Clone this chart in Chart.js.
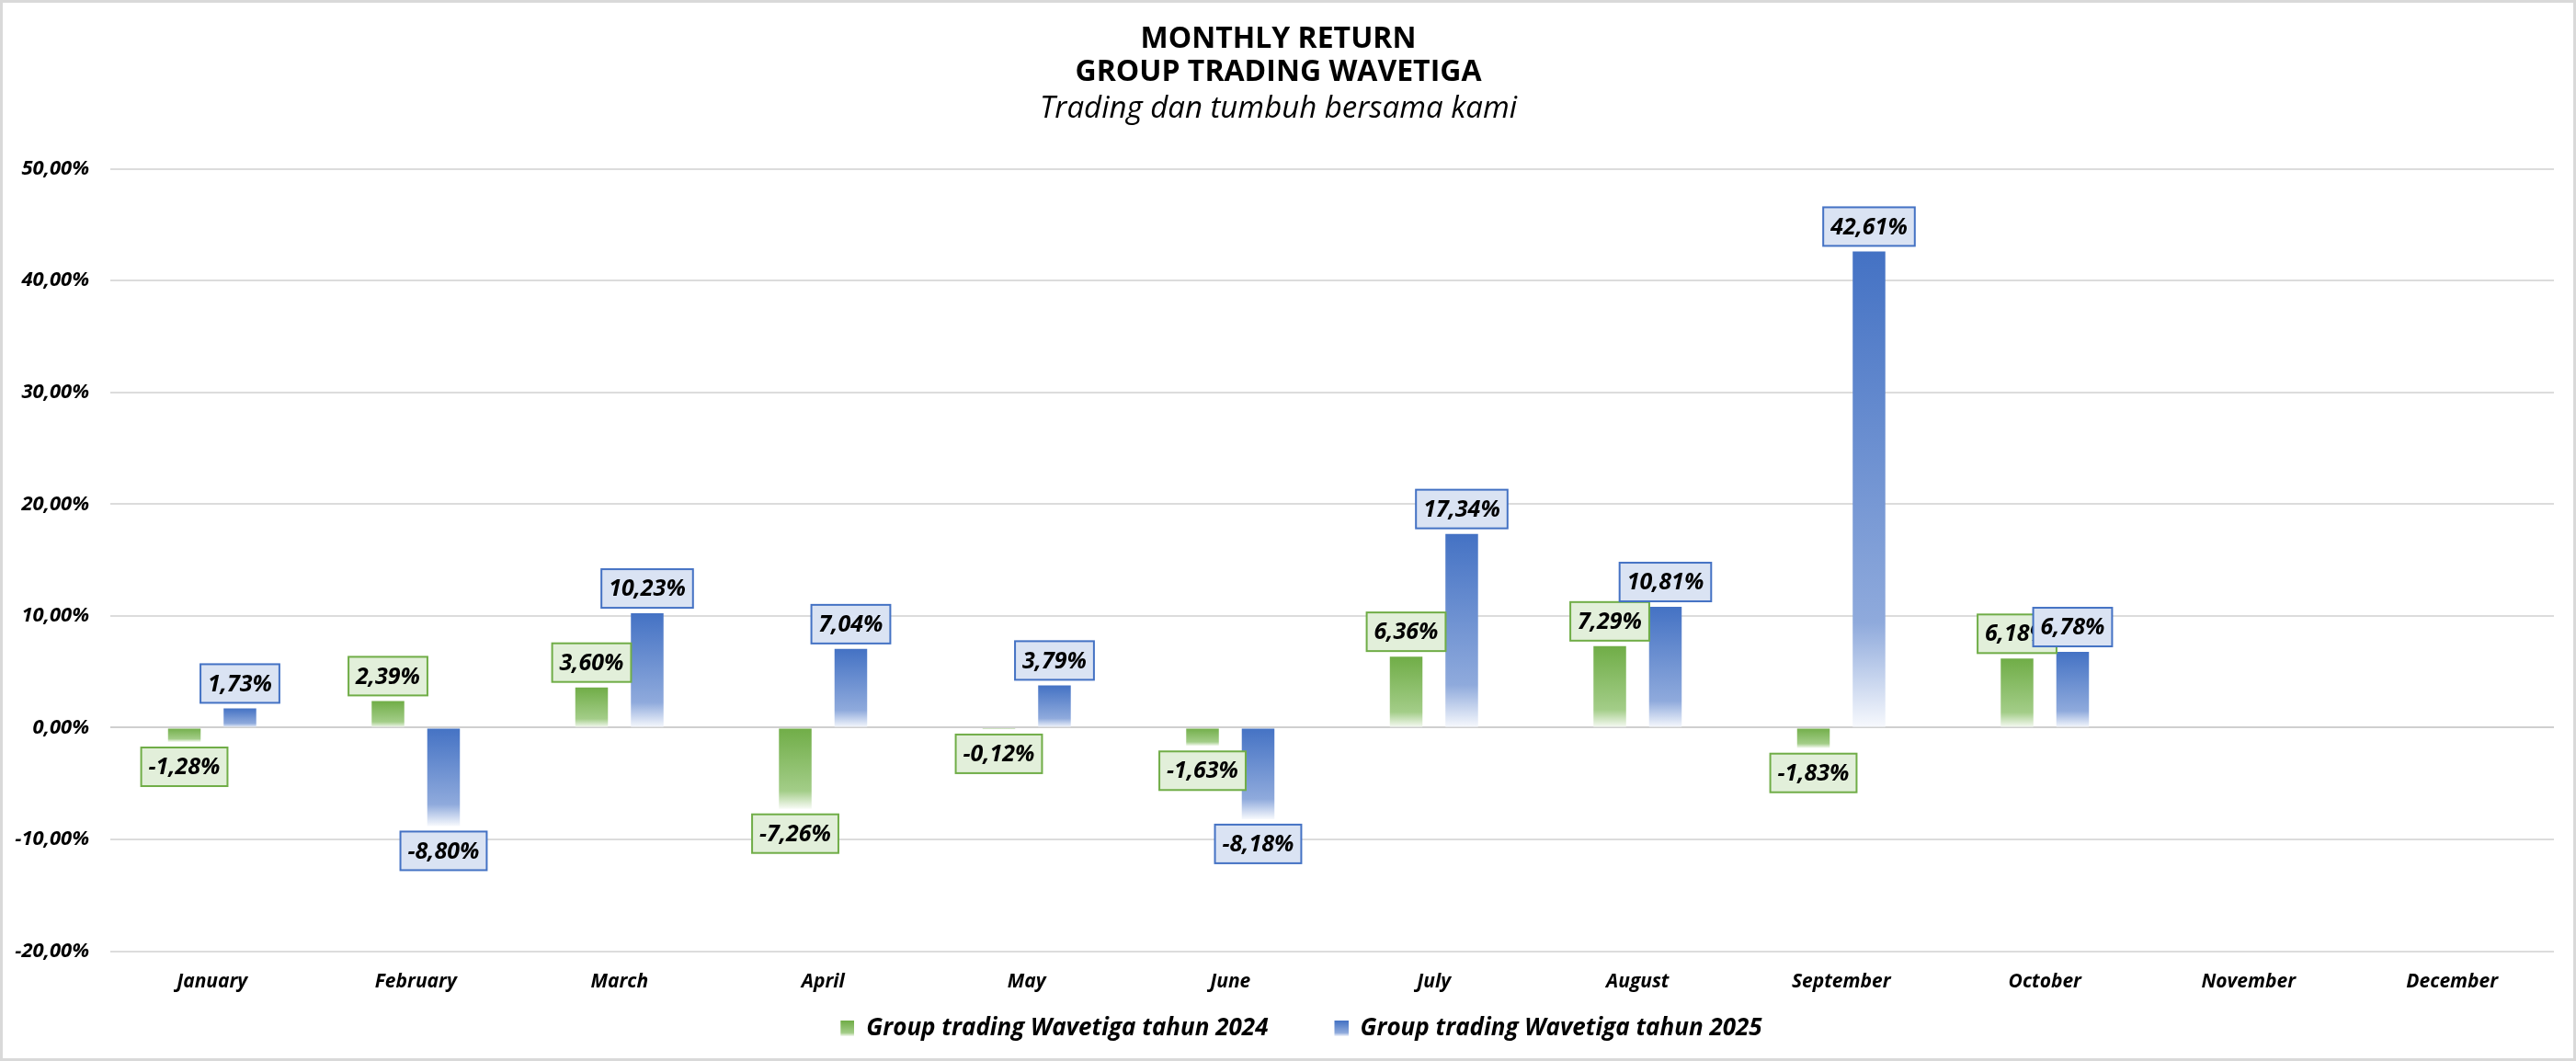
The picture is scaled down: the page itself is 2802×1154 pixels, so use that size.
<!DOCTYPE html>
<html>
<head>
<meta charset="utf-8">
<title>Monthly Return - Group Trading Wavetiga</title>
<script src="https://cdn.jsdelivr.net/npm/chart.js@4.4.1/dist/chart.umd.min.js"></script>
<style>
  html, body { margin: 0; padding: 0; background: #fff; }
  .chart-frame { position: relative; width: 2802px; height: 1154px; }
  .chart-frame::after {
    content: ''; position: absolute; inset: 0;
    border: 3px solid #d9d9d9; pointer-events: none;
  }
</style>
</head>
<body>
<div class="chart-frame"><canvas id="monthly-return-chart"></canvas></div>
<script>
'use strict';

// ===== DATA =====
const months = ['January', 'February', 'March', 'April', 'May', 'June',
  'July', 'August', 'September', 'October', 'November', 'December'];
const seriesNames = ['Group trading Wavetiga tahun 2024', 'Group trading Wavetiga tahun 2025'];
const return2024 = [-1.28, 2.39, 3.60, -7.26, -0.12, -1.63, 6.36, 7.29, -1.83, 6.18, null, null];
const return2025 = [1.73, -8.80, 10.23, 7.04, 3.79, -8.18, 17.34, 10.81, 42.61, 6.78, null, null];
const yTickValues = [-20, -10, 0, 10, 20, 30, 40, 50];

// ===== STYLE =====
const FONT = '"Open Sans", "Noto Sans", sans-serif';
const green = { solid: '#70ad47', mid: '#a3cd88', end: '#f8fbf6', box: '#e2efda' };
const blue = { solid: '#4472c4', mid: '#8faadc', end: '#f7f9fd', box: '#dae3f3' };

const fmtPct = v => v.toFixed(2).replace('.', ',') + '%';

function fadeGradient(ctx, top, bottom, p) {
  const g = ctx.createLinearGradient(0, top, 0, bottom);
  g.addColorStop(0, p.solid);
  g.addColorStop(0.78, p.mid);
  g.addColorStop(1, p.end);
  return g;
}

// bar fill: solid at the top edge, fading to white at the bottom edge
function barFill(p) {
  return (context) => {
    const yScale = context.chart.scales.y;
    const value = context.raw;
    if (context.type !== 'data' || value == null || !yScale) return p.solid;
    const top = yScale.getPixelForValue(Math.max(value, 0));
    const bottom = yScale.getPixelForValue(Math.min(value, 0));
    if (!isFinite(top) || !isFinite(bottom) || top === bottom) return p.solid;
    return fadeGradient(context.chart.ctx, top, bottom, p);
  };
}

// legend swatch: blank space on the left (spacing between items), gradient square on the right
function legendSwatch(p) {
  const c = document.createElement('canvas');
  c.width = 65;
  c.height = 17;
  const ctx = c.getContext('2d');
  ctx.fillStyle = fadeGradient(ctx, 0, 17, p);
  ctx.fillRect(50, 0, 15, 17);
  return c;
}
const swatches = [legendSwatch(green), legendSwatch(blue)];

// ===== VALUE LABEL BOXES =====
const valueLabels = {
  id: 'valueLabels',
  afterDatasetsDraw(chart) {
    const ctx = chart.ctx;
    const palettes = [green, blue];
    ctx.save();
    ctx.font = 'italic bold 25px ' + FONT;
    ctx.textAlign = 'center';
    ctx.textBaseline = 'middle';
    ctx.lineWidth = 2;
    chart.data.datasets.forEach((ds, di) => {
      const meta = chart.getDatasetMeta(di);
      meta.data.forEach((bar, i) => {
        const v = ds.data[i];
        if (v == null) return;
        const text = fmtPct(v);
        const w = ctx.measureText(text).width + 16;
        const h = 42;
        const top = v >= 0 ? bar.y - 6 - h : bar.y + 6;
        const left = bar.x - w / 2;
        ctx.fillStyle = palettes[di].box;
        ctx.fillRect(left, top, w, h);
        ctx.strokeStyle = palettes[di].solid;
        ctx.strokeRect(left, top, w, h);
        ctx.fillStyle = '#000';
        ctx.fillText(text, bar.x, top + h / 2 + 1);
      });
    });
    ctx.restore();
  }
};

Chart.defaults.color = '#000';
Chart.defaults.font.family = FONT;

new Chart(document.getElementById('monthly-return-chart'), {
  type: 'bar',
  data: {
    labels: months,
    datasets: [
      { label: seriesNames[0], data: return2024, backgroundColor: barFill(green) },
      { label: seriesNames[1], data: return2025, backgroundColor: barFill(blue) }
    ]
  },
  options: {
    responsive: true,
    maintainAspectRatio: false,
    animation: false,
    events: [],
    categoryPercentage: 0.546,
    barPercentage: 0.587,
    layout: { padding: { left: 3, right: 24, top: 0, bottom: 12.4 } },
    plugins: {
      tooltip: { enabled: false },
      title: {
        display: true,
        text: ['MONTHLY RETURN', 'GROUP TRADING WAVETIGA'],
        color: '#000',
        font: { size: 32, weight: 'bold', lineHeight: 1.125 },
        padding: { top: 25, bottom: 0 }
      },
      subtitle: {
        display: true,
        text: 'Trading dan tumbuh bersama kami',
        color: '#000',
        font: { size: 33, style: 'italic', weight: 'normal', lineHeight: 1.2 },
        padding: { top: 2, bottom: 45 }
      },
      legend: {
        position: 'bottom',
        labels: {
          usePointStyle: true,
          pointStyleWidth: 65,
          boxHeight: 17,
          padding: 22,
          color: '#000',
          font: { size: 26, style: 'italic', weight: 'bold' },
          generateLabels: chart => chart.data.datasets.map((ds, i) => ({
            text: ds.label,
            pointStyle: swatches[i],
            fillStyle: 'transparent',
            strokeStyle: 'transparent',
            lineWidth: 0,
            hidden: false,
            datasetIndex: i
          }))
        }
      }
    },
    scales: {
      x: {
        grid: { display: false, drawTicks: false },
        border: { display: false },
        ticks: {
          padding: 21,
          color: '#000',
          font: { size: 21, style: 'italic', weight: 'bold' }
        },
        afterFit: scale => { scale.height = 49; }
      },
      y: {
        min: -20,
        max: 50,
        border: { display: false },
        grid: {
          drawTicks: false,
          lineWidth: 2,
          color: c => (c.tick && c.tick.value === 0 ? '#cfcfcf' : '#dcdcdc')
        },
        afterBuildTicks: scale => { scale.ticks = yTickValues.map(v => ({ value: v })); },
        ticks: {
          padding: 23,
          color: '#000',
          font: { size: 22, style: 'italic', weight: 'bold' },
          callback: v => fmtPct(v)
        },
        afterFit: scale => { scale.width = 117; }
      }
    }
  },
  plugins: [valueLabels]
});
</script>
</body>
</html>
